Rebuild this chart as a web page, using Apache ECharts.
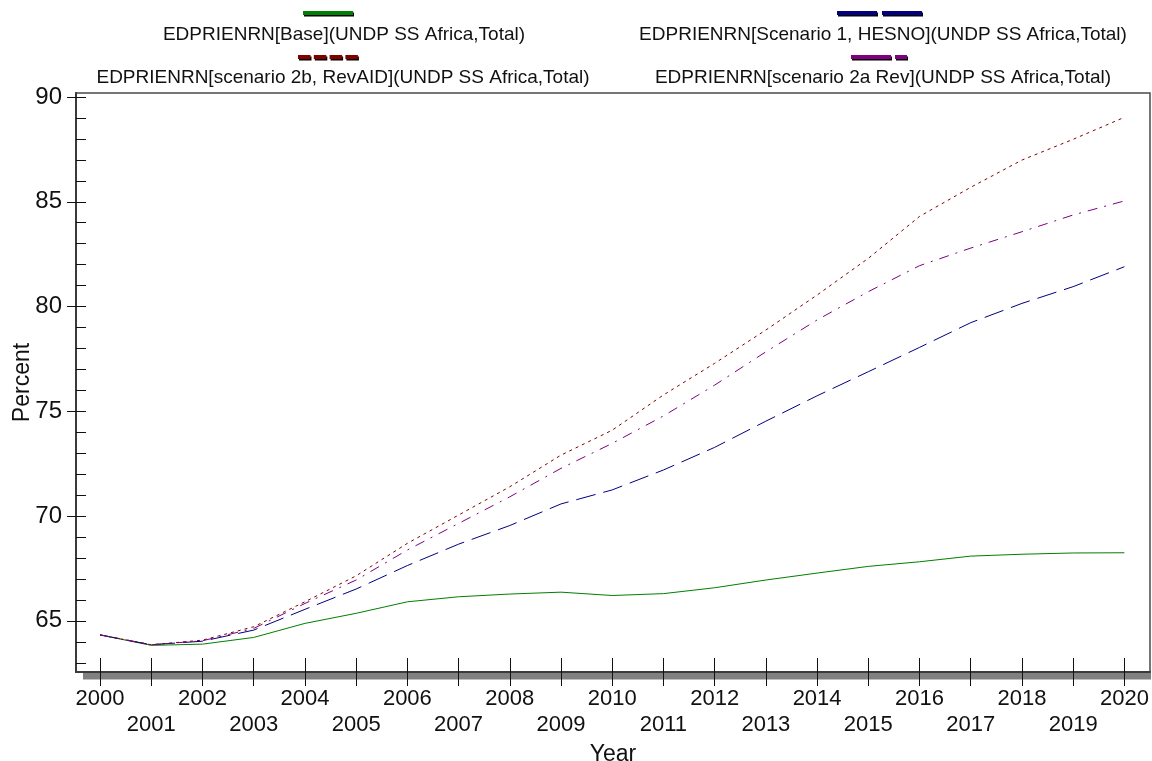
<!DOCTYPE html>
<html>
<head>
<meta charset="utf-8">
<script src="https://cdn.jsdelivr.net/npm/echarts@6/dist/echarts.min.js"></script>
<style>
  html, body { margin: 0; padding: 0; background: #ffffff; }
  #chart { width: 1152px; height: 761px; }
</style>
</head>
<body>
<div id="chart"></div>
<script>
// Primary-school net enrolment (EDPRIENRN), UNDP Sub-Saharan Africa, total, by scenario
const years = [2000, 2001, 2002, 2003, 2004, 2005, 2006, 2007, 2008, 2009, 2010,
               2011, 2012, 2013, 2014, 2015, 2016, 2017, 2018, 2019, 2020];

const baseValues = [64.33, 63.83, 63.89, 64.21, 64.88, 65.36, 65.91, 66.15, 66.28, 66.37, 66.21,
                    66.30, 66.58, 66.95, 67.28, 67.60, 67.82, 68.09, 68.18, 68.24, 68.25];
const scenario1Values = [64.33, 63.86, 64.03, 64.56, 65.55, 66.52, 67.64, 68.66, 69.55, 70.58, 71.25,
                         72.20, 73.28, 74.53, 75.74, 76.89, 78.05, 79.23, 80.15, 80.95, 81.90];
const scenario2bValues = [64.33, 63.86, 64.08, 64.72, 65.91, 67.15, 68.70, 70.05, 71.40, 72.91, 74.10,
                          75.78, 77.29, 78.88, 80.55, 82.30, 84.30, 85.69, 86.99, 87.98, 89.03];
const scenario2aValues = [64.33, 63.86, 64.05, 64.64, 65.83, 66.95, 68.38, 69.65, 70.92, 72.28, 73.47,
                          74.78, 76.25, 77.84, 79.36, 80.71, 81.95, 82.79, 83.57, 84.37, 85.04];

const seriesNames = [
  'EDPRIENRN[Base](UNDP SS Africa,Total)',
  'EDPRIENRN[Scenario 1, HESNO](UNDP SS Africa,Total)',
  'EDPRIENRN[scenario 2b, RevAID](UNDP SS Africa,Total)',
  'EDPRIENRN[scenario 2a Rev](UNDP SS Africa,Total)'
];

const yMajorTicks = [65, 70, 75, 80, 85, 90];
const yMinorTicks = [63, 64, 65, 66, 67, 68, 69, 70, 71, 72, 73, 74, 75, 76, 77,
                     78, 79, 80, 81, 82, 83, 84, 85, 86, 87, 88, 89, 90];
const xTickYears = years;

const xAxisName = 'Year';
const yAxisName = 'Percent';

// ---- styling ----
const FONT = '"Liberation Sans", Arial, sans-serif';
const AXIS_COLOR = '#3a3a3a';
const X_MIN = 1999.53, X_MAX = 2020.5;
const Y_MIN = 62.56, Y_MAX = 90.19;

const seriesStyles = [
  { color: '#008000', dash: 'solid',        legendDash: null },
  { color: '#000080', dash: [20, 8],        legendDash: [40, 5] },
  { color: '#800000', dash: [3, 4],         legendDash: [12.5, 3.3] },
  { color: '#800080', dash: [10, 7, 2, 7],  legendDash: [40, 4, 12, 100] }
];
const seriesValues = [baseValues, scenario1Values, scenario2bValues, scenario2aValues];

// legend layout: [text centre x, text y, sample x1, sample x2, sample y]
const legendLayout = [
  [344, 35, 303, 353, 13],
  [883, 35, 837, 923, 13],
  [343, 78, 298, 358, 57],
  [883, 78, 851, 907, 57]
];

const chart = echarts.init(document.getElementById('chart'), null, { renderer: 'canvas' });

const series = seriesNames.map((name, i) => ({
  name: name,
  type: 'line',
  xAxisIndex: 0,
  yAxisIndex: 0,
  showSymbol: false,
  symbol: 'none',
  animation: false,
  z: 3 + i,
  lineStyle: { color: seriesStyles[i].color, width: 1, type: seriesStyles[i].dash },
  data: years.map((y, k) => [y, seriesValues[i][k]])
}));

const baseX = {
  type: 'value', min: X_MIN, max: X_MAX, position: 'bottom',
  splitLine: { show: false }
};
const baseY = {
  type: 'value', min: Y_MIN, max: Y_MAX, position: 'left',
  splitLine: { show: false }
};

const option = {
  backgroundColor: '#ffffff',
  animation: false,
  grid: {
    left: 76, right: 2, top: 93, bottom: 89,
    outerBoundsMode: 'none',
    containLabel: false,
    show: true, borderColor: '#4a4a4a', borderWidth: 1.5, backgroundColor: 'transparent'
  },
  xAxis: [
    Object.assign({}, baseX, {
      name: xAxisName,
      nameLocation: 'middle',
      nameGap: 66,
      nameTextStyle: { fontFamily: FONT, fontSize: 23, color: '#111' },
      axisLine: { show: true, lineStyle: { color: AXIS_COLOR, width: 2 } },
      axisTick: { show: true, inside: false, length: 14, customValues: xTickYears,
                  lineStyle: { color: '#111', width: 1 } },
      axisLabel: {
        show: true, customValues: xTickYears, margin: 14,
        fontFamily: FONT, fontSize: 22, color: '#111', lineHeight: 26,
        formatter: v => (Math.round(v) % 2 === 0 ? String(Math.round(v)) : '\n' + Math.round(v))
      }
    }),
    Object.assign({}, baseX, {
      axisLine: { show: false },
      axisTick: { show: true, inside: true, length: 14, customValues: xTickYears,
                  lineStyle: { color: '#111', width: 1 } },
      axisLabel: { show: false }
    })
  ],
  yAxis: [
    Object.assign({}, baseY, {
      name: yAxisName,
      nameLocation: 'middle',
      nameGap: 42,
      nameMoveOverlap: false,
      nameRotate: 90,
      nameTextStyle: { fontFamily: FONT, fontSize: 23, color: '#111' },
      axisLine: { show: true, lineStyle: { color: AXIS_COLOR, width: 2 } },
      axisTick: { show: true, inside: false, length: 9, customValues: yMajorTicks,
                  lineStyle: { color: '#111', width: 1 } },
      axisLabel: { show: true, customValues: yMajorTicks, margin: 14,
                   fontFamily: FONT, fontSize: 24, color: '#111' }
    }),
    Object.assign({}, baseY, {
      axisLine: { show: false },
      axisTick: { show: true, inside: true, length: 10, customValues: yMinorTicks,
                  lineStyle: { color: '#111', width: 1 } },
      axisLabel: { show: false }
    })
  ],
  series: series
};

chart.setOption(option);

// Legend (sample bar above its label) and the shaded band under the time axis
const graphics = [];
seriesNames.forEach((name, i) => {
  const [cx, ty, x1, x2, sy] = legendLayout[i];
  const st = seriesStyles[i];
  graphics.push({
    type: 'line',
    shape: { x1: x1, y1: sy, x2: x2, y2: sy },
    style: {
      stroke: st.color, lineWidth: 4, lineDash: st.legendDash || null, lineCap: 'butt',
      shadowColor: '#000', shadowOffsetX: 1, shadowOffsetY: 1.5, shadowBlur: 0
    },
    z: 10
  });
  graphics.push({
    type: 'text',
    x: cx, y: ty,
    style: { text: name, fontFamily: FONT, fontSize: 19, fill: '#111',
             align: 'center', verticalAlign: 'middle' },
    z: 10
  });
});

const lowLeft = chart.convertToPixel({ xAxisIndex: 0, yAxisIndex: 0 }, [X_MIN, Y_MIN]);
const lowRight = chart.convertToPixel({ xAxisIndex: 0, yAxisIndex: 0 }, [X_MAX, Y_MIN]);
graphics.push({
  type: 'rect',
  shape: { x: lowLeft[0] + 7, y: lowLeft[1] + 1, width: lowRight[0] - lowLeft[0] - 6, height: 6.5 },
  style: { fill: '#808080' },
  z: -1
});

chart.setOption({ graphic: { elements: graphics } });
</script>
</body>
</html>
